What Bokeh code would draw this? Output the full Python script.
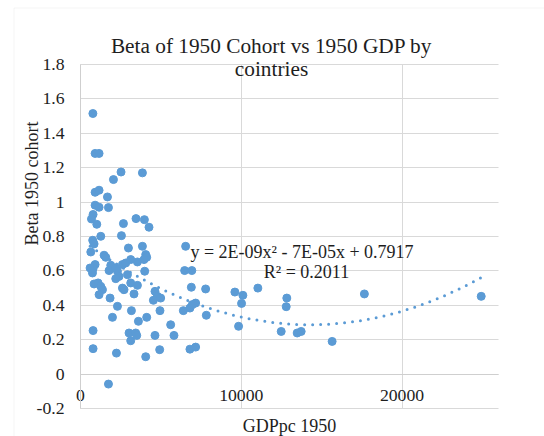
import numpy as np
from bokeh.plotting import figure
from bokeh.models import Label, FixedTicker, NumeralTickFormatter, ColumnDataSource, Range1d, BoxAnnotation
from bokeh.embed import file_html
from bokeh.resources import INLINE

# ---- data ----
gdp_1950 = [770, 908, 1155, 2522, 3851, 2050, 908, 1155, 1677, 908, 1155, 1739, 783, 683, 1012,
            2671, 3453, 3975, 4261, 1261, 760, 2547, 845, 640, 1466, 1571, 2981, 3851, 4056, 4118,
            908, 783, 596, 745, 1882, 1776, 2192, 2609, 2814, 3124, 3540, 3950, 2298, 2397, 2192,
            2919, 3124, 3540, 2609, 2708, 3994, 845, 1093, 1261, 1366, 1155, 1839, 2298, 3329, 3168,
            1988, 3602, 4118, 783, 3019, 3435, 3124, 3497, 4633, 5608, 5814, 783, 2236, 4056, 4925,
            1739, 6540, 6478, 6925, 6894, 7783, 4633, 4782, 4534, 4987, 4944, 6397, 6807, 7161, 6956,
            7826, 6807, 7161, 9603, 10099, 10018, 11031, 12832, 12795, 9832, 12484, 13478, 13726,
            15652, 17658, 24925]
beta_1950 = [1.515, 1.283, 1.283, 1.175, 1.170, 1.131, 1.057, 1.069, 1.030, 0.982, 0.970, 0.968, 0.928, 0.902, 0.871,
             0.875, 0.904, 0.898, 0.854, 0.801, 0.778, 0.805, 0.757, 0.710, 0.691, 0.679, 0.733, 0.743, 0.695, 0.679,
             0.637, 0.613, 0.617, 0.588, 0.633, 0.602, 0.617, 0.637, 0.646, 0.666, 0.652, 0.666, 0.598, 0.568, 0.555,
             0.578, 0.530, 0.516, 0.500, 0.491, 0.598, 0.524, 0.530, 0.510, 0.491, 0.462, 0.442, 0.394, 0.466, 0.369,
             0.330, 0.307, 0.330, 0.253, 0.239, 0.239, 0.194, 0.225, 0.225, 0.287, 0.225, 0.148, 0.122, 0.101, 0.142,
             -0.058, 0.743, 0.602, 0.602, 0.505, 0.495, 0.481, 0.452, 0.429, 0.442, 0.369, 0.369, 0.384, 0.413, 0.404,
             0.342, 0.145, 0.157, 0.477, 0.458, 0.411, 0.500, 0.442, 0.392, 0.278, 0.248, 0.239, 0.248,
             0.190, 0.466, 0.452]
trend_coef = [2.43e-9, -6.95e-5, 0.784]   # quadratic trendline as drawn
x_ticks = [0, 10000, 20000]
y_ticks = [-0.2, 0, 0.2, 0.4, 0.6, 0.8, 1.0, 1.2, 1.4, 1.6, 1.8]
title_lines = ["Beta of 1950 Cohort vs 1950 GDP by", "cointries"]
x_title = "GDPpc 1950"
y_title = "Beta 1950 cohort"
eq_lines = ["y = 2E-09x\u00b2  - 7E-05x  + 0.7917", "R\u00b2 = 0.2011"]

# ---- layout (canvas pixels) ----
W, H = 544, 436
PL, PR, PT, PB = 80, 498, 64, 408          # visible plot area
XMIN, XMAX = 0, 26000
YMIN, YMAX = -0.2, 1.8
BLUE = "#5b9bd5"
GRID = "#d9d9d9"
AXIS = "#cfcfcf"
TXT = "#1e1e1e"
FONT = "Times New Roman, Liberation Serif, serif"


def dx(px):
    return XMIN + (px - PL) / (PR - PL) * (XMAX - XMIN)


def dy(py):
    return YMAX - (py - PT) / (PB - PT) * (YMAX - YMIN)


p = figure(width=W, height=H, output_backend="svg", toolbar_location=None, title=None,
           x_range=Range1d(dx(0), dx(W)), y_range=Range1d(dy(H), dy(0)), min_border=0)
p.outline_line_color = None
p.background_fill_color = "white"
p.border_fill_color = "white"

# chart-area border (cropped at right / bottom in the reference)
p.add_layout(BoxAnnotation(left=dx(13.5), right=dx(W + 20), top=dy(7.5), bottom=dy(H + 20),
                           fill_color=None, fill_alpha=0, line_color="#d9d9d9", line_width=1))

for ax in (p.xaxis, p.yaxis):
    ax.major_tick_line_color = None
    ax.minor_tick_line_color = None
    ax.major_tick_out = 0
    ax.major_tick_in = 0
    ax.axis_line_color = AXIS
    ax.major_label_text_font = FONT
    ax.major_label_text_font_size = "17.7px"
    ax.major_label_text_color = TXT

p.xaxis.ticker = FixedTicker(ticks=x_ticks)
p.yaxis.ticker = FixedTicker(ticks=y_ticks)
p.xaxis.formatter = NumeralTickFormatter(format="0")
p.yaxis.formatter = NumeralTickFormatter(format="0.[0]")
p.xaxis.fixed_location = 0
p.yaxis.fixed_location = XMIN
p.xaxis.bounds = (XMIN, XMAX)
p.yaxis.bounds = (YMIN, YMAX)
p.xaxis.major_label_standoff = 16
p.yaxis.major_label_standoff = 16

p.xgrid.grid_line_color = GRID
p.ygrid.grid_line_color = GRID
p.xgrid.bounds = (XMIN, XMAX)
p.ygrid.bounds = (YMIN, YMAX)
try:
    p.xgrid.cross_bounds = (YMIN, YMAX)
    p.ygrid.cross_bounds = (XMIN, XMAX)
except Exception:
    p.xgrid.visible = False
    p.ygrid.visible = False
    p.segment(x0=x_ticks, x1=x_ticks, y0=[YMIN] * len(x_ticks), y1=[YMAX] * len(x_ticks),
              line_color=GRID, line_width=1)
    p.segment(x0=[XMIN] * len(y_ticks), x1=[XMAX] * len(y_ticks), y0=y_ticks, y1=y_ticks,
              line_color=GRID, line_width=1)

src = ColumnDataSource(dict(x=gdp_1950, y=beta_1950))
p.scatter("x", "y", source=src, size=8, fill_color=BLUE, line_color=BLUE)

xs = np.linspace(min(gdp_1950), max(gdp_1950), 300)
ys = trend_coef[0] * xs ** 2 + trend_coef[1] * xs + trend_coef[2]
p.line(xs, ys, line_color=BLUE, line_width=3, line_dash="0 8", line_cap="round")

lbl = dict(text_font=FONT, text_color=TXT, text_align="center", text_baseline="middle")
p.add_layout(Label(x=dx(271), y=dy(45), text=title_lines[0], text_font_size="21.3px", **lbl))
p.add_layout(Label(x=dx(271), y=dy(68), text=title_lines[1], text_font_size="21.3px", **lbl))
p.add_layout(Label(x=dx(289), y=dy(425), text=x_title, text_font_size="18px", **lbl))
p.add_layout(Label(x=dx(31), y=dy(183), text=y_title, text_font_size="18px", angle=np.pi / 2, **lbl))
p.add_layout(Label(x=dx(306), y=dy(251.7), text=eq_lines[0], text_font_size="18px", **lbl))
p.add_layout(Label(x=dx(306), y=dy(271.7), text=eq_lines[1], text_font_size="18px", **lbl))

open("out.html", "w").write(file_html(p, INLINE))
